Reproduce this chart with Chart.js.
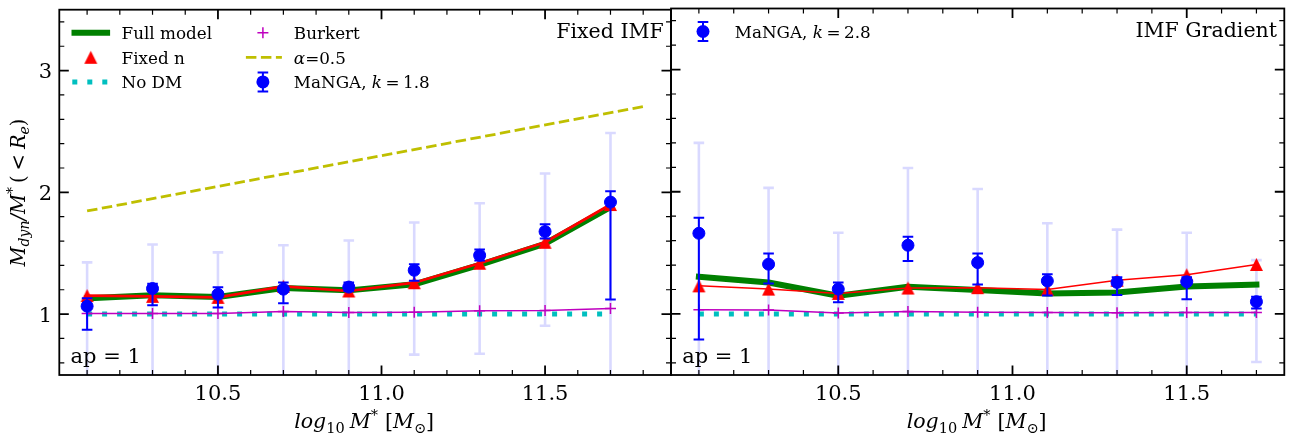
<!DOCTYPE html>
<html>
<head>
<meta charset="utf-8">
<script src="https://cdn.jsdelivr.net/npm/chart.js@4.4.0/dist/chart.umd.min.js"></script>
<style>
  html, body { margin: 0; padding: 0; background: #fff; }
  #wrap { position: relative; width: 1301px; height: 437px; }
  #wrap canvas { position: absolute; left: 0; top: 0; }
</style>
</head>
<body>
<div id="wrap">
  <canvas id="fixedImf" width="1301" height="437"></canvas>
  <canvas id="imfGradient" width="1301" height="437"></canvas>
</div>
<script>
// stellar mass bins, log10 M*
const massBins = [10.1, 10.3, 10.5, 10.7, 10.9, 11.1, 11.3, 11.5, 11.7];

// --- Fixed IMF panel ---
const fullFixed    = [1.13, 1.155, 1.14, 1.215, 1.195, 1.245, 1.405, 1.578, 1.878];
const fixedNFixed  = [1.152, 1.146, 1.138, 1.228, 1.19, 1.258, 1.418, 1.59, 1.90];
const burkertFixed = [1.005, 1.005, 1.005, 1.021, 1.013, 1.015, 1.028, 1.03, 1.047];
const noDM         = [1, 1, 1, 1, 1, 1, 1, 1, 1];
const alphaMass    = [10.1, 11.8];
const alphaFixed   = [1.847, 2.705];

const mangaK18       = [1.065, 1.21, 1.163, 1.205, 1.222, 1.36, 1.483, 1.678, 1.92];
const mangaK18Lo     = [0.872, 1.073, 1.054, 1.09, 1.19, 1.275, 1.44, 1.62, 1.12];
const mangaK18Hi     = [1.13, 1.25, 1.22, 1.26, 1.26, 1.41, 1.53, 1.738, 2.01];
const mangaK18LoWide = [0.35, 0.40, 0.38, 0.42, 0.45, 0.667, 0.675, 0.905, 0.40];
const mangaK18HiWide = [1.425, 1.572, 1.507, 1.566, 1.605, 1.752, 1.91, 2.155, 2.488];

// --- IMF gradient panel ---
const fullGrad    = [1.304, 1.257, 1.149, 1.222, 1.195, 1.168, 1.176, 1.225, 1.24];
const fixedNGrad  = [1.23, 1.203, 1.168, 1.212, 1.215, 1.20, 1.275, 1.32, 1.405];
const burkertGrad = [1.035, 1.033, 1.008, 1.019, 1.013, 1.012, 1.01, 1.012, 1.012];

const mangaK28       = [1.66, 1.407, 1.203, 1.562, 1.42, 1.27, 1.258, 1.263, 1.10];
const mangaK28Lo     = [0.79, 1.25, 1.095, 1.434, 1.24, 1.15, 1.155, 1.12, 1.045];
const mangaK28Hi     = [1.787, 1.494, 1.257, 1.632, 1.494, 1.325, 1.30, 1.30, 1.14];
const mangaK28LoWide = [0.38, 0.40, 0.42, 0.35, 0.40, 0.45, 0.43, 0.44, 0.607];
const mangaK28HiWide = [2.40, 2.032, 1.665, 2.195, 2.022, 1.742, 1.69, 1.665, 1.44];

// axis tick labels
const xTickLabels = ['10.5', '11.0', '11.5'];
const yTickLabels = ['1', '2', '3'];

const C = {
  green: '#008000', red: '#ff0000', cyan: '#00bfbf', magenta: '#bf00bf',
  olive: '#bfbf00', blue: '#0000ff', pale: '#d9d9ff'
};
const SERIF = '"DejaVu Serif", "Liberation Serif", serif';

const pts = (xs, ys) => xs.map((x, i) => ({ x, y: ys[i] }));

// matplotlib-like '^' marker
function triangleMarker(size, color) {
  const c = document.createElement('canvas');
  c.width = c.height = size + 2;
  const g = c.getContext('2d');
  const m = (size + 2) / 2, h = size / 2;
  g.fillStyle = color;
  g.beginPath();
  g.moveTo(m, m - h);
  g.lineTo(m - h, m + h);
  g.lineTo(m + h, m + h);
  g.closePath();
  g.fill();
  return c;
}
const redTriangle = triangleMarker(13, C.red);

// text with italic / sub / superscript pieces
function richText(ctx, parts, x, y, align) {
  let w = 0;
  parts.forEach(p => {
    ctx.font = (p.it ? 'italic ' : '') + p.s + 'px ' + SERIF;
    p.w = ctx.measureText(p.t).width + (p.gap || 0);
    w += p.w;
  });
  let cx = align === 'center' ? x - w / 2 : align === 'right' ? x - w : x;
  ctx.textAlign = 'left';
  ctx.textBaseline = 'alphabetic';
  parts.forEach(p => {
    ctx.font = (p.it ? 'italic ' : '') + p.s + 'px ' + SERIF;
    ctx.fillText(p.t, cx, y + (p.dy || 0));
    cx += p.w;
  });
}

function errBar(ctx, px, yLo, yHi, cap, lw, color) {
  ctx.strokeStyle = color;
  ctx.lineWidth = lw;
  ctx.beginPath();
  ctx.moveTo(px, yLo); ctx.lineTo(px, yHi);
  ctx.moveTo(px - cap, yLo); ctx.lineTo(px + cap, yLo);
  ctx.moveTo(px - cap, yHi); ctx.lineTo(px + cap, yHi);
  ctx.stroke();
}

// wide (pale) bars under everything, narrow bars right under the MaNGA markers
const errorBars = {
  id: 'errorBars',
  beforeDatasetsDraw(chart, args, o) {
    const { ctx, chartArea: a, scales: { x, y } } = chart;
    ctx.save();
    ctx.beginPath(); ctx.rect(a.left, a.top, a.width, a.height); ctx.clip();
    o.xs.forEach((m, i) => {
      errBar(ctx, x.getPixelForValue(m), y.getPixelForValue(o.loWide[i]),
        y.getPixelForValue(o.hiWide[i]), 5.3, 2.6, C.pale);
    });
    ctx.restore();
  },
  beforeDatasetDraw(chart, args, o) {
    if (args.index !== 0) return;
    const { ctx, chartArea: a, scales: { x, y } } = chart;
    ctx.save();
    ctx.beginPath(); ctx.rect(a.left, a.top, a.width, a.height); ctx.clip();
    o.xs.forEach((m, i) => {
      errBar(ctx, x.getPixelForValue(m), y.getPixelForValue(o.lo[i]),
        y.getPixelForValue(o.hi[i]), 5.3, 2, C.blue);
    });
    ctx.restore();
  }
};

// box, inward ticks on all sides, tick labels, axis titles
const frame = {
  id: 'frame',
  afterDraw(chart, args, o) {
    const { ctx, chartArea: a, scales: { x, y } } = chart;
    ctx.save();
    ctx.strokeStyle = '#000';
    ctx.fillStyle = '#000';

    const xt = [];
    for (let v = Math.ceil(x.min * 10 - 1e-6); v <= x.max * 10 + 1e-6; v++) xt.push(v / 10);
    xt.forEach(v => {
      const major = (Math.round(v * 10) % 5) === 0;
      const len = major ? 9.5 : 5;
      const px = x.getPixelForValue(v);
      ctx.lineWidth = major ? 1.8 : 1.2;
      ctx.beginPath();
      ctx.moveTo(px, a.bottom); ctx.lineTo(px, a.bottom - len);
      ctx.moveTo(px, a.top); ctx.lineTo(px, a.top + len);
      ctx.stroke();
    });

    const yt = [];
    for (let v = Math.ceil(y.min * 5 - 1e-6); v <= y.max * 5 + 1e-6; v++) yt.push(v / 5);
    yt.forEach(v => {
      const major = (Math.round(v * 5) % 5) === 0;
      const len = major ? 9.5 : 5;
      const py = y.getPixelForValue(v);
      ctx.lineWidth = major ? 1.8 : 1.2;
      ctx.beginPath();
      ctx.moveTo(a.left, py); ctx.lineTo(a.left + len, py);
      ctx.moveTo(a.right, py); ctx.lineTo(a.right - len, py);
      ctx.stroke();
    });

    ctx.lineWidth = 1.8;
    ctx.strokeRect(a.left, a.top, a.width, a.height);

    ctx.font = '21px ' + SERIF;
    ctx.textAlign = 'center';
    ctx.textBaseline = 'alphabetic';
    xTickLabels.forEach(t => ctx.fillText(t, x.getPixelForValue(parseFloat(t)), a.bottom + 25));
    if (o.yLabels) {
      ctx.textAlign = 'right';
      yTickLabels.forEach(t => ctx.fillText(t, a.left - 7.3, y.getPixelForValue(parseFloat(t)) + 7.6));
    }

    // x title
    const xc = (a.left + a.right) / 2 - 1;
    richText(ctx, [
      { t: 'log', it: true, s: 20.5 },
      { t: '10', s: 14.5, dy: 4.5, gap: 5 },
      { t: 'M', it: true, s: 20.5 },
      { t: '*', s: 14.5, dy: -8, gap: 7 },
      { t: '[', s: 20.5 },
      { t: 'M', it: true, s: 20.5 },
      { t: '\u2299', s: 14.5, dy: 4.5 },
      { t: ']', s: 20.5 }
    ], xc, a.bottom + 53, 'center');

    if (o.yTitle) {
      ctx.translate(24.5, 192.5);
      ctx.rotate(-Math.PI / 2);
      richText(ctx, [
        { t: 'M', it: true, s: 19.5 },
        { t: 'dyn', it: true, s: 14 },
        { t: '/', it: true, s: 19.5 },
        { t: 'M', it: true, s: 19.5 },
        { t: '*', s: 14, dy: -7.5, gap: 4 },
        { t: '(', s: 19.5, gap: 5 },
        { t: '<', s: 19.5, gap: 5 },
        { t: 'R', it: true, s: 19.5 },
        { t: 'e', it: true, s: 14 },
        { t: ')', s: 19.5 }
      ].map(p => (p.t === 'dyn' || p.t === 'e') ? Object.assign(p, { dy: 4.5 }) : p), 0, 0, 'center');
    }
    ctx.restore();
  }
};

// legend handles drawn in the same styles as the datasets
function handle(ctx, kind, cx, cy) {
  ctx.save();
  if (kind === 'full') {
    ctx.strokeStyle = C.green; ctx.lineWidth = 6; ctx.lineCap = 'square';
    ctx.beginPath(); ctx.moveTo(cx - 16.3, cy); ctx.lineTo(cx + 16.3, cy); ctx.stroke();
  } else if (kind === 'fixedN') {
    ctx.drawImage(redTriangle, cx - redTriangle.width / 2, cy - redTriangle.height / 2);
  } else if (kind === 'noDM') {
    ctx.strokeStyle = C.cyan; ctx.lineWidth = 5; ctx.setLineDash([5, 10]);
    ctx.beginPath(); ctx.moveTo(cx - 18.5, cy); ctx.lineTo(cx + 19.5, cy); ctx.stroke();
  } else if (kind === 'burkert') {
    ctx.strokeStyle = C.magenta; ctx.lineWidth = 1.5;
    ctx.beginPath();
    ctx.moveTo(cx - 5.5, cy); ctx.lineTo(cx + 5.5, cy);
    ctx.moveTo(cx, cy - 5.5); ctx.lineTo(cx, cy + 5.5);
    ctx.stroke();
  } else if (kind === 'alpha') {
    ctx.strokeStyle = C.olive; ctx.lineWidth = 2.8; ctx.setLineDash([10.5, 4.5]);
    ctx.beginPath(); ctx.moveTo(cx - 17, cy); ctx.lineTo(cx + 19, cy); ctx.stroke();
  } else if (kind === 'manga') {
    errBar(ctx, cx, cy - 9.5, cy + 9.5, 5.3, 2, C.blue);
    ctx.fillStyle = C.blue;
    ctx.beginPath(); ctx.arc(cx, cy, 6.5, 0, Math.PI * 2); ctx.fill();
  }
  ctx.restore();
}

const legendBox = {
  id: 'legendBox',
  afterDraw(chart, args, o) {
    const { ctx, chartArea: a } = chart;
    ctx.save();
    ctx.fillStyle = '#000';
    o.items.forEach(it => {
      const cy = a.top + 23 + it.row * 24.6;
      handle(ctx, it.kind, a.left + it.hx, cy);
      richText(ctx, it.text, a.left + it.tx, cy + 6.2, 'left');
    });
    ctx.fillStyle = '#000';
    ctx.font = '20.5px ' + SERIF;
    ctx.textAlign = 'right';
    ctx.textBaseline = 'alphabetic';
    ctx.fillText(o.title, a.right - 7.3, a.top + 28);
    ctx.font = '21px ' + SERIF;
    ctx.textAlign = 'left';
    ctx.fillText('ap = 1', a.left + 11.2, a.bottom - 12.5);
    ctx.restore();
  }
};

const LS = 16.8;
const plain = t => [{ t, s: LS }];
const mangaText = k => [
  { t: 'MaNGA, ', s: LS }, { t: 'k', it: true, s: LS, gap: 3.5 },
  { t: '=', s: LS, gap: 3.5 }, { t: k, s: LS }
];

function makePanel(id, p) {
  const datasets = [
    {
      label: p.mangaLabel, data: pts(massBins, p.manga), showLine: false,
      pointStyle: 'circle', pointRadius: 6, pointBorderWidth: 1,
      pointBackgroundColor: C.blue, pointBorderColor: C.blue, order: 0
    },
    {
      label: 'Burkert', data: pts(massBins, p.burkert), borderColor: C.magenta,
      borderWidth: 1.5, pointStyle: 'cross', pointRadius: 5.5, pointBorderWidth: 1.5,
      pointBorderColor: C.magenta, order: 2
    },
    {
      label: 'No DM', data: pts(massBins, noDM), borderColor: C.cyan, borderWidth: 5,
      borderDash: [5, 10], borderCapStyle: 'butt', pointRadius: 0, order: 3
    },
    {
      label: 'Fixed n', data: pts(massBins, p.fixedN), borderColor: C.red,
      borderWidth: p.redWidth, borderJoinStyle: 'round', pointStyle: redTriangle,
      pointRadius: 7, order: 4
    },
    {
      label: 'Full model', data: pts(massBins, p.full), borderColor: C.green,
      borderWidth: 6, borderJoinStyle: 'round', borderCapStyle: 'square',
      pointRadius: 0, order: 5
    }
  ];
  if (p.alpha) {
    datasets.push({
      label: '\u03b1=0.5', data: pts(alphaMass, p.alpha), borderColor: C.olive,
      borderWidth: 2.8, borderDash: [10.5, 4.5], borderCapStyle: 'butt',
      pointRadius: 0, order: 1
    });
  }

  return new Chart(document.getElementById(id), {
    type: 'line',
    data: { datasets },
    options: {
      responsive: false,
      animation: false,
      devicePixelRatio: 1,
      layout: { padding: p.padding },
      scales: {
        x: { type: 'linear', display: false, min: p.xMin, max: p.xMax },
        y: { type: 'linear', display: false, min: 0.5, max: 3.5 }
      },
      plugins: {
        legend: { display: false },
        tooltip: { enabled: false },
        errorBars: { xs: massBins, lo: p.lo, hi: p.hi, loWide: p.loWide, hiWide: p.hiWide },
        frame: { yLabels: p.yLabels, yTitle: p.yLabels },
        legendBox: { title: p.title, items: p.legend }
      }
    },
    plugins: [errorBars, frame, legendBox]
  });
}

makePanel('fixedImf', {
  xMin: 10.015, xMax: 11.885,
  padding: { left: 59.3, right: 1301 - 671, top: 6.3, bottom: 62 },
  manga: mangaK18, lo: mangaK18Lo, hi: mangaK18Hi, loWide: mangaK18LoWide, hiWide: mangaK18HiWide,
  full: fullFixed, fixedN: fixedNFixed, burkert: burkertFixed, alpha: alphaFixed,
  redWidth: 2.7, yLabels: true, title: 'Fixed IMF', mangaLabel: 'MaNGA, k = 1.8',
  legend: [
    { kind: 'full', row: 0, hx: 31.5, tx: 62.2, text: plain('Full model') },
    { kind: 'fixedN', row: 1, hx: 31.5, tx: 62.2, text: plain('Fixed n') },
    { kind: 'noDM', row: 2, hx: 31.5, tx: 62.2, text: plain('No DM') },
    { kind: 'burkert', row: 0, hx: 203.6, tx: 234.5, text: plain('Burkert') },
    { kind: 'alpha', row: 1, hx: 203.6, tx: 234.5,
      text: [{ t: '\u03b1', it: true, s: LS }, { t: '=0.5', s: LS }] },
    { kind: 'manga', row: 2, hx: 203.6, tx: 234.5, text: mangaText('1.8') }
  ]
});

makePanel('imfGradient', {
  xMin: 10.02, xMax: 11.78,
  padding: { left: 671, right: 1301 - 1284.3, top: 6.3, bottom: 62 },
  manga: mangaK28, lo: mangaK28Lo, hi: mangaK28Hi, loWide: mangaK28LoWide, hiWide: mangaK28HiWide,
  full: fullGrad, fixedN: fixedNGrad, burkert: burkertGrad, alpha: null,
  redWidth: 1.5, yLabels: false, title: 'IMF Gradient', mangaLabel: 'MaNGA, k = 2.8',
  legend: [
    { kind: 'manga', row: 0, hx: 32, tx: 63.7, text: mangaText('2.8') }
  ]
});
</script>
</body>
</html>
